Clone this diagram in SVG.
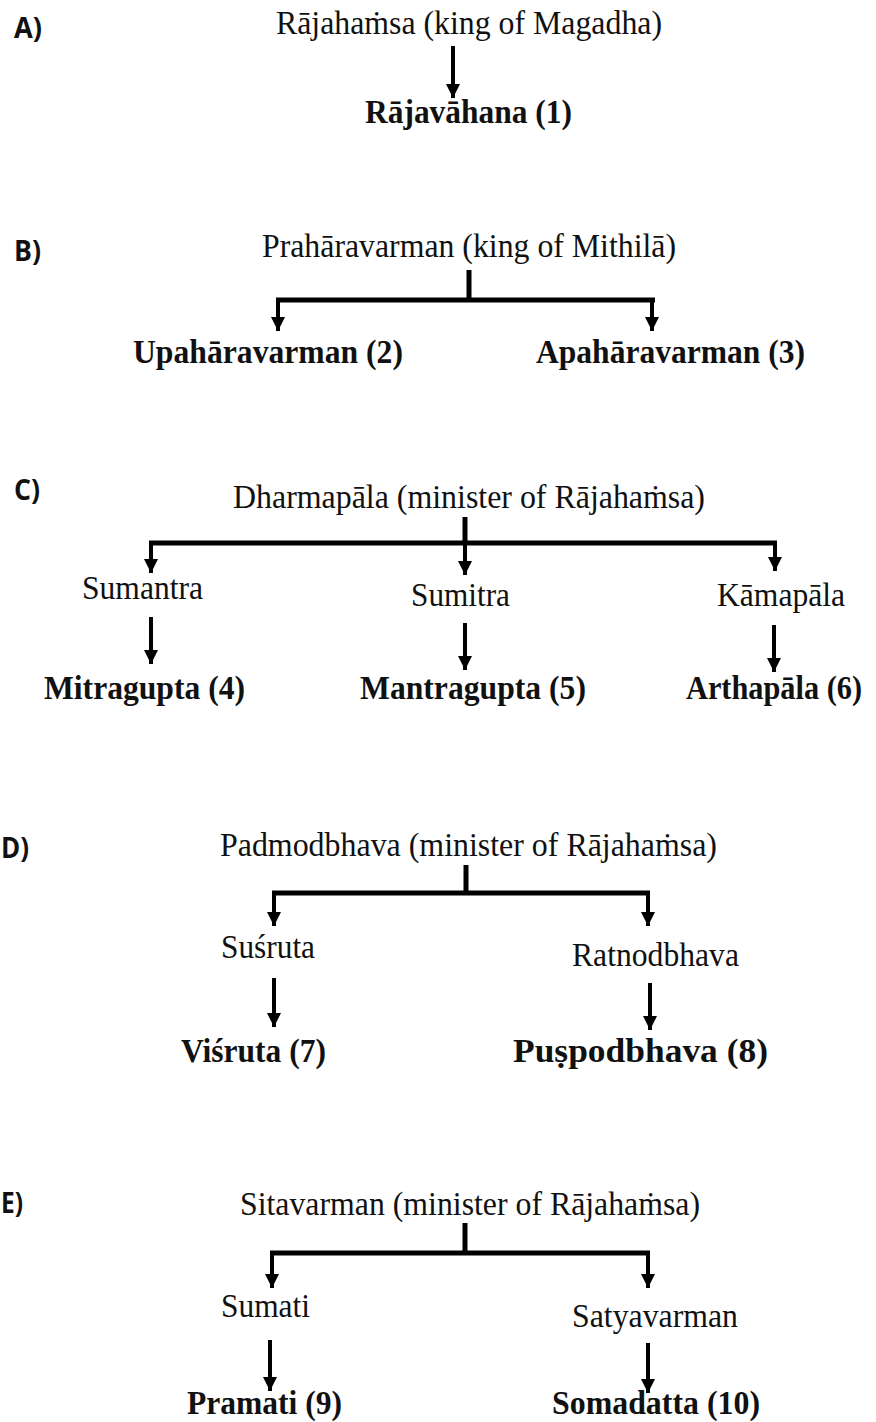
<svg xmlns="http://www.w3.org/2000/svg" width="876" height="1422" viewBox="0 0 876 1422">
<style>
.t{font-family:"Liberation Serif","Times New Roman",serif;font-size:33px;fill:#111}
.b{font-family:"Liberation Serif","Times New Roman",serif;font-size:33px;font-weight:bold;fill:#111}
.l{font-family:"Open Sans","Liberation Sans",sans-serif;font-size:28px;font-weight:bold;fill:#111}
.c{stroke:#000;stroke-width:4;fill:none}
.bar{stroke:#000;stroke-width:5;fill:none}
</style>
<defs>
<marker id="ah" viewBox="0 0 10 10" refX="10" refY="5" markerWidth="15" markerHeight="14" markerUnits="userSpaceOnUse" orient="auto">
<path d="M0,0 L10,5 L0,10 z" fill="#000"/>
</marker>
</defs>
<rect width="876" height="1422" fill="#fff"/>
<g id="labels">
<text class="l" x="14" y="38" textLength="28" lengthAdjust="spacingAndGlyphs">A)</text>
<text class="l" x="14" y="261" textLength="27" lengthAdjust="spacingAndGlyphs">B)</text>
<text class="l" x="14" y="500" textLength="26" lengthAdjust="spacingAndGlyphs">C)</text>
<text class="l" x="1" y="858" textLength="28" lengthAdjust="spacingAndGlyphs">D)</text>
<text class="l" x="1" y="1213" textLength="22" lengthAdjust="spacingAndGlyphs">E)</text>
</g>
<g id="connectors">
<line class="c" x1="453" y1="46" x2="453" y2="98" marker-end="url(#ah)"/>
<path class="bar" d="M469,270 V300 M276,300 H655"/>
<line class="c" x1="278" y1="298" x2="278" y2="331" marker-end="url(#ah)"/>
<line class="c" x1="652" y1="298" x2="652" y2="331" marker-end="url(#ah)"/>
<path class="bar" d="M465,517 V543 M149,543 H777"/>
<line class="c" x1="151" y1="541" x2="151" y2="573" marker-end="url(#ah)"/>
<line class="c" x1="465" y1="541" x2="465" y2="575" marker-end="url(#ah)"/>
<line class="c" x1="775" y1="541" x2="775" y2="571" marker-end="url(#ah)"/>
<line class="c" x1="151" y1="617" x2="151" y2="664" marker-end="url(#ah)"/>
<line class="c" x1="465" y1="623" x2="465" y2="670" marker-end="url(#ah)"/>
<line class="c" x1="774" y1="625" x2="774" y2="672" marker-end="url(#ah)"/>
<path class="bar" d="M466,865 V893 M272,893 H650"/>
<line class="c" x1="274" y1="891" x2="274" y2="926" marker-end="url(#ah)"/>
<line class="c" x1="648" y1="891" x2="648" y2="926" marker-end="url(#ah)"/>
<line class="c" x1="274" y1="978" x2="274" y2="1027" marker-end="url(#ah)"/>
<line class="c" x1="650" y1="983" x2="650" y2="1030" marker-end="url(#ah)"/>
<path class="bar" d="M465,1223 V1253 M270,1253 H650"/>
<line class="c" x1="272" y1="1251" x2="272" y2="1288" marker-end="url(#ah)"/>
<line class="c" x1="648" y1="1251" x2="648" y2="1288" marker-end="url(#ah)"/>
<line class="c" x1="270" y1="1340" x2="270" y2="1391" marker-end="url(#ah)"/>
<line class="c" x1="648" y1="1343" x2="648" y2="1393" marker-end="url(#ah)"/>
</g>
<g id="nA1"><text class="t" x="276" y="34" textLength="386" lengthAdjust="spacingAndGlyphs">Rājahaṁsa (king of Magadha)</text></g>
<g id="nA2"><text class="b" x="365" y="123" textLength="207" lengthAdjust="spacingAndGlyphs">Rājavāhana (1)</text></g>
<g id="nB1"><text class="t" x="262" y="257" textLength="414" lengthAdjust="spacingAndGlyphs">Prahāravarman (king of Mithilā)</text></g>
<g id="nB2"><text class="b" x="133" y="363" textLength="270" lengthAdjust="spacingAndGlyphs">Upahāravarman (2)</text></g>
<g id="nB3"><text class="b" x="536" y="363" textLength="269" lengthAdjust="spacingAndGlyphs">Apahāravarman (3)</text></g>
<g id="nC1"><text class="t" x="233" y="508" textLength="472" lengthAdjust="spacingAndGlyphs">Dharmapāla (minister of Rājahaṁsa)</text></g>
<g id="nC2"><text class="t" x="82" y="599" textLength="121" lengthAdjust="spacingAndGlyphs">Sumantra</text></g>
<g id="nC3"><text class="t" x="411" y="606" textLength="99" lengthAdjust="spacingAndGlyphs">Sumitra</text></g>
<g id="nC4"><text class="t" x="717" y="606" textLength="128" lengthAdjust="spacingAndGlyphs">Kāmapāla</text></g>
<g id="nC5"><text class="b" x="44" y="699" textLength="201" lengthAdjust="spacingAndGlyphs">Mitragupta (4)</text></g>
<g id="nC6"><text class="b" x="360" y="699" textLength="226" lengthAdjust="spacingAndGlyphs">Mantragupta (5)</text></g>
<g id="nC7"><text class="b" x="686" y="699" textLength="176" lengthAdjust="spacingAndGlyphs">Arthapāla (6)</text></g>
<g id="nD1"><text class="t" x="220" y="856" textLength="497" lengthAdjust="spacingAndGlyphs">Padmodbhava (minister of Rājahaṁsa)</text></g>
<g id="nD2"><text class="t" x="221" y="958" textLength="94" lengthAdjust="spacingAndGlyphs">Suśruta</text></g>
<g id="nD3"><text class="t" x="572" y="966" textLength="167" lengthAdjust="spacingAndGlyphs">Ratnodbhava</text></g>
<g id="nD4"><text class="b" x="181" y="1062" textLength="145" lengthAdjust="spacingAndGlyphs">Viśruta (7)</text></g>
<g id="nD5"><text class="b" x="513" y="1062" textLength="255" lengthAdjust="spacingAndGlyphs">Puṣpodbhava (8)</text></g>
<g id="nE1"><text class="t" x="240" y="1215" textLength="460" lengthAdjust="spacingAndGlyphs">Sitavarman (minister of Rājahaṁsa)</text></g>
<g id="nE2"><text class="t" x="221" y="1317" textLength="89" lengthAdjust="spacingAndGlyphs">Sumati</text></g>
<g id="nE3"><text class="t" x="572" y="1327" textLength="166" lengthAdjust="spacingAndGlyphs">Satyavarman</text></g>
<g id="nE4"><text class="b" x="187" y="1414" textLength="155" lengthAdjust="spacingAndGlyphs">Pramati (9)</text></g>
<g id="nE5"><text class="b" x="552" y="1414" textLength="208" lengthAdjust="spacingAndGlyphs">Somadatta (10)</text></g>
</svg>
